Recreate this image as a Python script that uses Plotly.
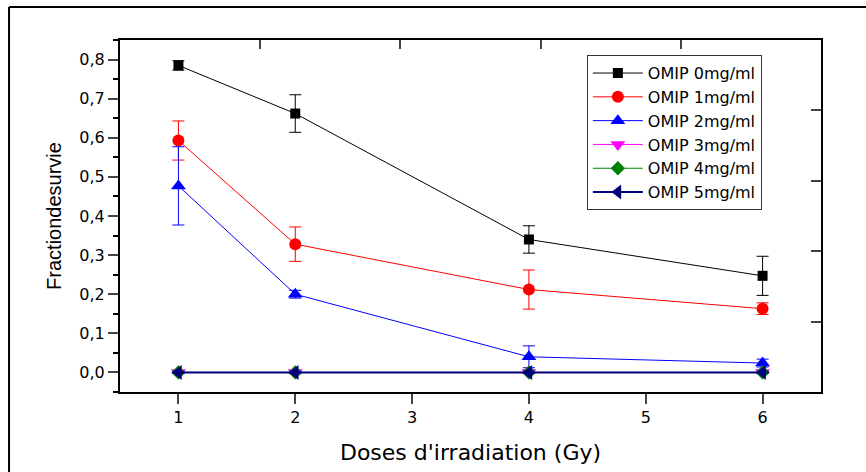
import plotly.graph_objects as go

doses = [1, 2, 4, 6]
series_names = ["OMIP 0mg/ml", "OMIP 1mg/ml", "OMIP 2mg/ml", "OMIP 3mg/ml", "OMIP 4mg/ml", "OMIP 5mg/ml"]
omip0 = [0.785, 0.662, 0.340, 0.247]
omip0_err = [0.012, 0.048, 0.035, 0.050]
omip1 = [0.593, 0.328, 0.212, 0.163]
omip1_err = [0.050, 0.044, 0.050, 0.015]
omip2 = [0.477, 0.200, 0.040, 0.024]
omip2_err = [0.100, 0.010, 0.028, 0.010]
omip3 = [0.0, 0.0, 0.0, 0.0]
omip3_err = [0.002, 0.002, 0.002, 0.002]
omip4 = [0.0, 0.0, 0.0, 0.0]
omip4_err = [0.002, 0.002, 0.002, 0.002]
omip5 = [0.0, 0.0, 0.0, 0.0]
omip5_err = [0.002, 0.002, 0.002, 0.002]
y_ticks = [0.0, 0.1, 0.2, 0.3, 0.4, 0.5, 0.6, 0.7, 0.8]
x_ticks = [1, 2, 3, 4, 5, 6]

values = [omip0, omip1, omip2, omip3, omip4, omip5]
errors = [omip0_err, omip1_err, omip2_err, omip3_err, omip4_err, omip5_err]
colors = ["#000000", "#FF0000", "#0000FF", "#FF00FF", "#008000", "#000080"]
symbols = ["square", "circle", "triangle-up", "triangle-down", "diamond", "triangle-left"]
sizes = [10, 12, 13, 13, 11, 13]
lwidths = [1, 1, 1, 1, 1, 2]

fig = go.Figure()
for name, v, e, c, s, sz, lw in zip(series_names, values, errors, colors, symbols, sizes, lwidths):
    fig.add_trace(go.Scatter(
        x=doses, y=v, name=name, mode="lines+markers",
        line=dict(color=c, width=lw),
        marker=dict(symbol=s, size=sz, color=c),
        error_y=dict(type="data", array=e, visible=True, color=c, thickness=1, width=6),
    ))

# empty trace to carry the mirrored top/right axes
fig.add_trace(go.Scatter(x=[], y=[], xaxis="x2", yaxis="y2", showlegend=False, hoverinfo="skip"))

FONT = "DejaVu Sans, Liberation Sans, Arial, sans-serif"

fig.update_layout(
    width=866, height=472,
    margin=dict(l=120, r=45, t=40, b=80),
    paper_bgcolor="white", plot_bgcolor="white",
    separators=", ",
    font=dict(family=FONT, color="black", size=16),
    showlegend=True,
    legend=dict(
        x=0.666, y=0.957, xanchor="left", yanchor="top",
        bgcolor="white", bordercolor="#333333", borderwidth=1,
        font=dict(family=FONT, size=16, color="black"),
        itemwidth=50, tracegroupgap=0,
    ),
    xaxis=dict(
        range=[0.5, 6.5], tickvals=x_ticks, ticks="outside", ticklen=10, tickwidth=2,
        showline=True, linewidth=2, linecolor="black", showgrid=False, zeroline=False,
        tickfont=dict(family=FONT, size=16),
        title=dict(text="Doses d'irradiation (Gy)", font=dict(family=FONT, size=22), standoff=18),
    ),
    yaxis=dict(
        range=[-0.05, 0.85], tickvals=y_ticks, tickformat=".1f", ticks="outside", ticklen=10, tickwidth=2,
        minor=dict(dtick=0.05, ticks="outside", ticklen=5, tickwidth=1.5, tickcolor="black", showgrid=False),
        showline=True, linewidth=2, linecolor="black", showgrid=False, zeroline=False,
        tickfont=dict(family=FONT, size=16),
        title=dict(text="Fractiondesurvie", font=dict(family="Liberation Sans, Arial, sans-serif", size=20), standoff=12),
    ),
    xaxis2=dict(
        overlaying="x", side="top", anchor="y", range=[0, 5], dtick=1, ticks="inside", ticklen=9, tickwidth=2,
        showticklabels=False, showline=True, linewidth=1.5, linecolor="black", showgrid=False, zeroline=False,
    ),
    yaxis2=dict(
        overlaying="y", side="right", anchor="x", range=[0, 5], dtick=1, ticks="inside", ticklen=10, tickwidth=2,
        showticklabels=False, showline=True, linewidth=2, linecolor="black", showgrid=False, zeroline=False,
    ),
    shapes=[
        dict(type="line", xref="paper", yref="paper", x0=-0.1583, y0=1.0938, x1=1.2, y1=1.0938,
             line=dict(color="black", width=2), layer="below"),
        dict(type="line", xref="paper", yref="paper", x0=-0.1583, y0=-0.3, x1=-0.1583, y1=1.0938,
             line=dict(color="black", width=2), layer="below"),
    ],
)

fig.write_html("out.html")
